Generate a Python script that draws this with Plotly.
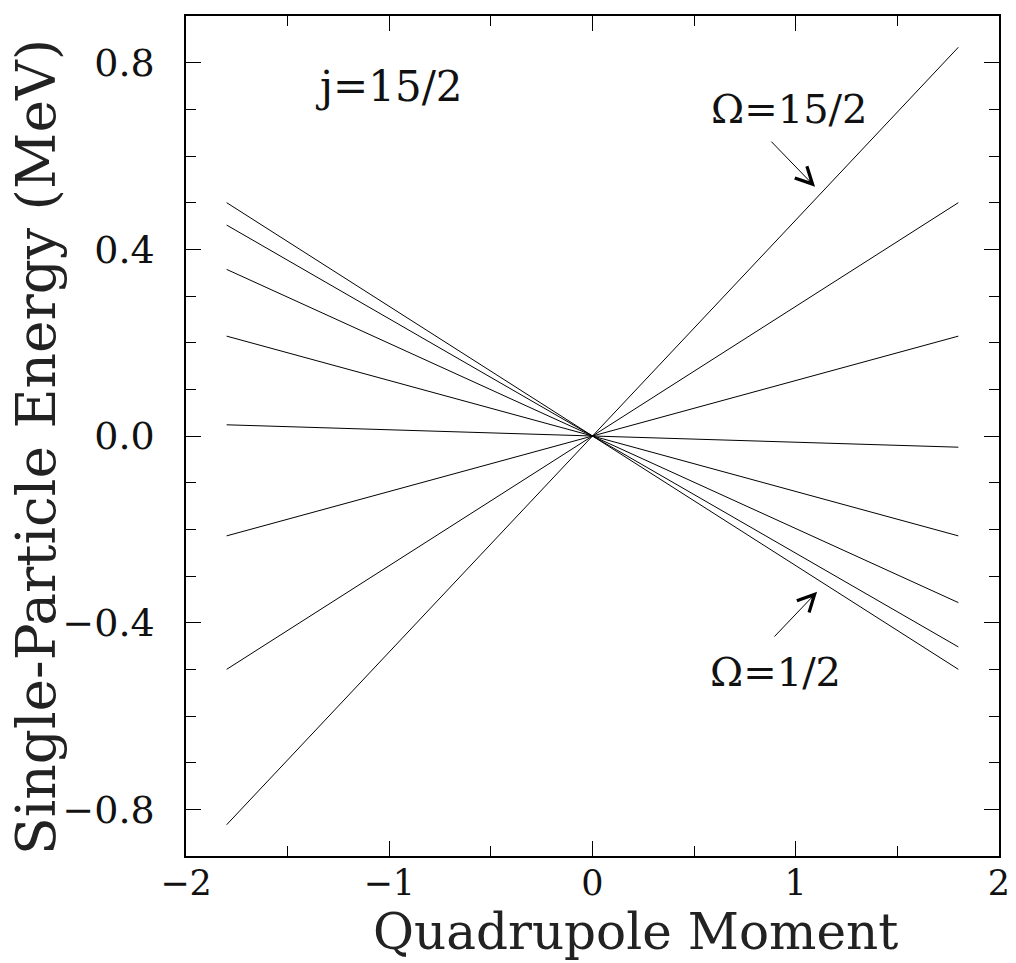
import plotly.graph_objects as go

# Data
omega_labels = ["1/2", "3/2", "5/2", "7/2", "9/2", "11/2", "13/2", "15/2"]
x_points = [-1.8, 0.0, 1.8]
energy_left = [0.50, 0.452, 0.357, 0.214, 0.024, -0.214, -0.50, -0.833]
energy_center = [0.0, 0.0, 0.0, 0.0, 0.0, 0.0, 0.0, 0.0]
energy_right = [-0.50, -0.452, -0.357, -0.214, -0.024, 0.214, 0.50, 0.833]

x_ticks = [-2, -1, 0, 1, 2]
y_ticks = [-0.8, -0.4, 0.0, 0.4, 0.8]

FONT = "DejaVu Serif"

fig = go.Figure()
for i, lab in enumerate(omega_labels):
    fig.add_trace(go.Scatter(
        x=x_points,
        y=[energy_left[i], energy_center[i], energy_right[i]],
        mode="lines",
        line=dict(color="black", width=1),
        name="Ω=" + lab,
        showlegend=False,
        hoverinfo="skip",
    ))

axis_common = dict(
    showgrid=False, zeroline=False, showline=True, linecolor="black",
    linewidth=1.5, mirror="allticks", ticks="inside", ticklen=15,
    tickwidth=1, tickcolor="black", automargin=False,
)

fig.update_layout(
    width=1016, height=963,
    margin=dict(l=186, r=17, t=16, b=107, autoexpand=False),
    paper_bgcolor="white", plot_bgcolor="white",
    xaxis=dict(range=[-2, 2], tickvals=x_ticks, ticklabelstandoff=-5,
               tickfont=dict(family=FONT, size=35, color="#111"),
               minor=dict(dtick=0.5, ticklen=10, ticks="inside",
                          tickcolor="black", tickwidth=1),
               **axis_common),
    yaxis=dict(range=[-0.9, 0.9], tickvals=y_ticks, tickformat=".1f",
               ticklabelstandoff=22,
               tickfont=dict(family=FONT, size=38, color="#111"),
               minor=dict(dtick=0.1, ticklen=10, ticks="inside",
                          tickcolor="black", tickwidth=1),
               **axis_common),
)

arrow_style = dict(xref="x", yref="y", axref="x", ayref="y", text="",
                   showarrow=True, arrowhead=5, arrowsize=3.3,
                   arrowwidth=1, arrowcolor="black")

annotations = [
    dict(text="Quadrupole Moment", xref="paper", yref="paper", x=0.553, y=0,
         yshift=-76, xanchor="center", yanchor="middle", showarrow=False,
         font=dict(family=FONT, size=50, color="#222")),
    dict(text="Single-Particle Energy (MeV)", xref="paper", yref="paper",
         x=0, y=0.487, xshift=-150, xanchor="center", yanchor="middle",
         textangle=-90, showarrow=False,
         font=dict(family=FONT, size=55, color="#222")),
    dict(text="j=15/2", xref="x", yref="y", x=-1.0, y=0.75, showarrow=False,
         font=dict(family=FONT, size=42, color="#111")),
    dict(text="Ω=15/2", xref="x", yref="y", x=0.97, y=0.70, showarrow=False,
         font=dict(family=FONT, size=40, color="#111")),
    dict(text="Ω=1/2", xref="x", yref="y", x=0.90, y=-0.505, showarrow=False,
         font=dict(family=FONT, size=40, color="#111")),
    dict(x=1.095, y=0.534, ax=0.873, ay=0.634, **arrow_style),
    dict(x=1.105, y=-0.334, ax=0.888, ay=-0.433, **arrow_style),
]
fig.update_layout(annotations=annotations)

fig.write_html("out.html")
